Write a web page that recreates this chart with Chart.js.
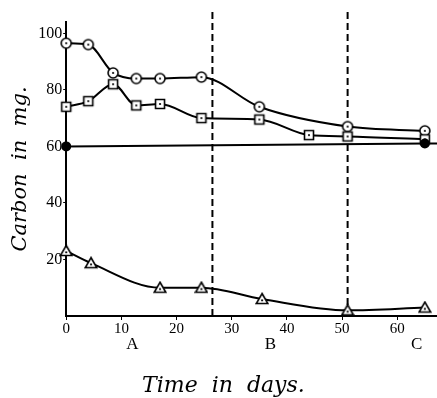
<!DOCTYPE html>
<html lang="en">
<head>
  <meta charset="UTF-8">
  <title>Carbon in mg over time</title>
  <script src="https://cdn.jsdelivr.net/npm/chart.js@4.4.0/dist/chart.umd.min.js"></script>
  <style>
    html, body { margin: 0; padding: 0; background: #fff; }
    #wrap { width: 437px; height: 398px; }
  </style>
</head>
<body>
  <div id="wrap"><canvas id="carbonChart"></canvas></div>
  <script>
    // Data
    const circleDays = [0, 4, 8.5, 12.7, 17, 24.5, 35, 51, 65];
    const circleCarbon = [96.5, 96, 86, 84, 84, 84.5, 74, 67, 65.5];

    const squareDays = [0, 4, 8.5, 12.7, 17, 24.5, 35, 44, 51, 65];
    const squareCarbon = [74, 76, 82, 74.5, 75, 70, 69.5, 64, 63.5, 62.5];

    const baseDays = [0, 65, 67.5];
    const baseCarbon = [60, 61, 61];

    const triDays = [0, 4.5, 17, 24.5, 35.5, 51, 65];
    const triCarbon = [23, 18.7, 10, 10, 6, 2, 3];

    const phaseBounds = [26.5, 51];
    const phaseNames = ['A', 'B', 'C'];
    const phaseCentres = [12, 37, 63.5];

    const xTicks = [0, 10, 20, 30, 40, 50, 60];
    const yTicks = [20, 40, 60, 80, 100];

    const serif = '"Liberation Serif", "DejaVu Serif", serif';
    const titleFont = '"DejaVu Serif", serif';

    // marker images: white shape, black outline, dot in the middle
    function marker(shape) {
      const c = document.createElement('canvas');
      c.width = 14; c.height = 14;
      const g = c.getContext('2d');
      g.fillStyle = '#fff';
      g.strokeStyle = '#000';
      g.lineWidth = 1.6;
      g.beginPath();
      if (shape === 'circle') g.arc(7, 7, 5, 0, Math.PI * 2);
      if (shape === 'square') g.rect(2.5, 2.5, 9, 9);
      if (shape === 'triangle') { g.moveTo(7, 1.5); g.lineTo(12.8, 11.5); g.lineTo(1.2, 11.5); g.closePath(); }
      g.fill(); g.stroke();
      g.fillStyle = '#000';
      g.beginPath();
      g.arc(7, shape === 'triangle' ? 8.3 : 7, 1.1, 0, Math.PI * 2);
      g.fill();
      return c;
    }

    const pts = (xs, ys) => xs.map((x, i) => ({ x: x, y: ys[i] }));

    function curve(xs, ys, style) {
      return {
        data: pts(xs, ys),
        borderColor: '#000',
        borderWidth: 2,
        cubicInterpolationMode: 'monotone',
        pointStyle: style,
        pointRadius: 7,
        clip: false
      };
    }

    const datasets = [
      {
        data: pts(baseDays, baseCarbon),
        borderColor: '#000',
        borderWidth: 2,
        pointRadius: ctx => (ctx.dataIndex < 2 ? 4 : 0),
        pointBackgroundColor: '#000',
        pointBorderColor: '#000',
        clip: false
      },
      curve(triDays, triCarbon, marker('triangle')),
      curve(squareDays, squareCarbon, marker('square')),
      curve(circleDays, circleCarbon, marker('circle'))
    ];
    phaseBounds.forEach(d => {
      datasets.push({
        data: [{ x: d, y: 0 }, { x: d, y: 108 }],
        borderColor: '#000',
        borderWidth: 2,
        borderDash: [7, 4],
        pointRadius: 0,
        clip: false
      });
    });

    // A, B, C under the tick labels, and the x title
    const bottomText = {
      id: 'bottomText',
      afterDraw(chart) {
        const ctx = chart.ctx;
        const x = chart.scales.x;
        const base = chart.chartArea.bottom;
        ctx.save();
        ctx.fillStyle = '#000';
        ctx.textAlign = 'center';
        ctx.textBaseline = 'middle';
        ctx.font = '17px ' + serif;
        phaseNames.forEach((n, i) => {
          ctx.fillText(n, x.getPixelForValue(phaseCentres[i]), base + 29);
        });
        ctx.font = 'italic 22px ' + titleFont;
        ctx.fillText('Time  in  days.', x.getPixelForValue(28.5), base + 70);
        ctx.restore();
      }
    };

    new Chart(document.getElementById('carbonChart'), {
      type: 'line',
      data: { datasets: datasets },
      plugins: [bottomText],
      options: {
        responsive: true,
        maintainAspectRatio: false,
        animation: false,
        layout: { autoPadding: false, padding: { top: 22, right: 0, left: 8, bottom: 60 } },
        plugins: { legend: { display: false }, tooltip: { enabled: false } },
        scales: {
          x: {
            type: 'linear',
            min: 0,
            max: 67.2,
            afterBuildTicks: s => { s.ticks = xTicks.map(v => ({ value: v })); },
            grid: { display: true, drawOnChartArea: false, color: '#000', tickLength: 4 },
            border: { color: '#000', width: 2 },
            ticks: { color: '#000', font: { family: serif, size: 15 }, padding: 0, maxRotation: 0 }
          },
          y: {
            min: 0,
            max: 104,
            afterBuildTicks: s => { s.ticks = yTicks.map(v => ({ value: v })); },
            grid: { display: true, drawOnChartArea: false, color: '#000', tickLength: 3 },
            border: { color: '#000', width: 2 },
            ticks: { color: '#000', font: { family: serif, size: 16 }, padding: 1 },
            title: {
              display: true,
              text: 'Carbon  in  mg.',
              color: '#000',
              font: { family: titleFont, size: 21, style: 'italic' },
              padding: { top: 0, bottom: 4 }
            }
          }
        }
      }
    });
  </script>
</body>
</html>
